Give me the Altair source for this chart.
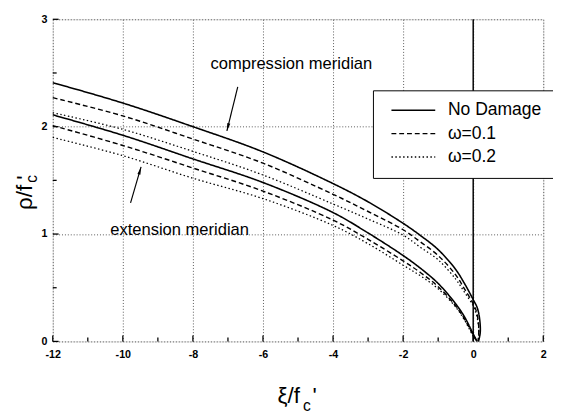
import altair as alt
import pandas as pd

FONT = "Liberation Sans"
W, H = 504, 331

SERIES = ["No Damage", "ω=0.1", "ω=0.2"]
X_TICKS = [-12, -10, -8, -6, -4, -2, 0, 2]
X_MINOR = [-11, -9, -7, -5, -3, -1, 1]
Y_TICKS = [0, 1, 2, 3]
Y_MINOR = [0.5, 1.5, 2.5]

# compression meridian
comp_x_nd = [-12, -10, -8, -6, -4, -3, -2, -1.5, -1, -0.5, -0.25, 0, 0.12, 0.19, 0.2, 0.15]
comp_y_nd = [2.41, 2.22, 2.00, 1.765, 1.47, 1.30, 1.10, 0.985, 0.855, 0.67, 0.54, 0.39, 0.31, 0.19, 0.08, 0.0]
comp_x_d = [-12, -10, -8, -6, -4, -3, -2, -1.5, -1, -0.5, -0.25, 0, 0.1, 0.16, 0.14]
comp_y_01 = [2.27, 2.10, 1.885, 1.66, 1.37, 1.21, 1.04, 0.925, 0.80, 0.62, 0.49, 0.35, 0.27, 0.12, 0.0]
comp_y_02 = [2.13, 1.975, 1.77, 1.55, 1.28, 1.14, 0.99, 0.875, 0.76, 0.58, 0.46, 0.33, 0.24, 0.10, 0.0]
# extension meridian
ext_x = [-12, -10, -8, -6, -4, -3, -2, -1.5, -1, -0.5, -0.25, 0, 0.11]
ext_y_nd = [2.11, 1.92, 1.70, 1.48, 1.20, 1.01, 0.80, 0.68, 0.54, 0.35, 0.23, 0.07, 0.0]
ext_y_01 = [2.01, 1.825, 1.615, 1.40, 1.13, 0.95, 0.75, 0.64, 0.51, 0.33, 0.21, 0.06, 0.0]
ext_y_02 = [1.90, 1.73, 1.52, 1.33, 1.08, 0.91, 0.71, 0.61, 0.49, 0.32, 0.20, 0.05, 0.0]

ANNOT_TEXT = ["compression meridian", "extension meridian"]
ANNOT_X = [-5.19, -8.38]
ANNOT_Y = [2.58, 1.04]
ARROW_X0 = [-6.72, -9.78]
ARROW_Y0 = [2.37, 1.29]
ARROW_X1 = [-7.03, -9.48]
ARROW_Y1 = [1.96, 1.625]

rows = []
def add(series, meridian, xs, ys):
    for i, (a, b) in enumerate(zip(xs, ys)):
        rows.append({"series": series, "meridian": meridian, "i": i, "x": a, "y": b})

add(SERIES[0], "compression", comp_x_nd, comp_y_nd)
add(SERIES[1], "compression", comp_x_d, comp_y_01)
add(SERIES[2], "compression", comp_x_d, comp_y_02)
add(SERIES[0], "extension", ext_x, ext_y_nd)
add(SERIES[1], "extension", ext_x, ext_y_01)
add(SERIES[2], "extension", ext_x, ext_y_02)
df = pd.DataFrame(rows)

xs = alt.Scale(domain=[-12, 2], nice=False, zero=False)
ys = alt.Scale(domain=[0, 3], nice=False, zero=False)

common = dict(labelExpr="'' + datum.value", title=None, ticks=False, tickSize=0, domain=False,
              grid=True, gridDash=[1, 2], gridColor="#555", gridWidth=1, labelFont=FONT,
              labelFontSize=11, labelFontWeight="bold", labelColor="black",
              labelFlush=False, labelOverlap=False)
xaxis = alt.Axis(values=X_TICKS, labelPadding=8, **common)
yaxis = alt.Axis(values=Y_TICKS, labelPadding=6, **common)

X = lambda f="x:Q": alt.X(f, scale=xs, axis=xaxis)
Y = lambda f="y:Q": alt.Y(f, scale=ys, axis=yaxis)

legend = alt.Legend(title=None, orient="none", legendX=329, legendY=73,
                    symbolType="stroke", symbolSize=2025, symbolStrokeWidth=1.3,
                    symbolStrokeColor="black", clipHeight=17, rowPadding=5, padding=12,
                    symbolOffset=6, labelOffset=12, labelFontSize=18, labelFont=FONT,
                    labelColor="black", strokeColor="black", fillColor="white")

lines = alt.Chart(df).mark_line(color="black", interpolate="catmull-rom").encode(
    x=X(), y=Y(),
    detail="meridian:N",
    order="i:Q",
    strokeDash=alt.StrokeDash("series:N", sort=SERIES,
                              scale=alt.Scale(domain=SERIES, range=[[1, 0], [5, 3], [1.5, 2.5]]),
                              legend=legend),
    strokeWidth=alt.StrokeWidth("series:N", scale=alt.Scale(domain=SERIES, range=[1.6, 1.3, 1.1]),
                                legend=None),
)

zero_rule = alt.Chart(pd.DataFrame({"x": [0]})).mark_rule(color="black", strokeWidth=1.5).encode(
    x=X(), y=alt.value(0), y2=alt.value(H))

xt_major = alt.Chart(pd.DataFrame({"x": X_TICKS})).mark_rule(color="black", strokeWidth=1.3).encode(
    x=X(), y=alt.value(H), y2=alt.value(H - 6))
xt_minor = alt.Chart(pd.DataFrame({"x": X_MINOR})).mark_rule(color="black", strokeWidth=1.3).encode(
    x=X(), y=alt.value(H), y2=alt.value(H - 4))
yt_major = alt.Chart(pd.DataFrame({"y": Y_TICKS})).mark_rule(color="black", strokeWidth=1.3).encode(
    y=Y(), x=alt.value(0), x2=alt.value(6))
yt_minor = alt.Chart(pd.DataFrame({"y": Y_MINOR})).mark_rule(color="black", strokeWidth=1.3).encode(
    y=Y(), x=alt.value(0), x2=alt.value(4))

annot_df = pd.DataFrame({"t": ANNOT_TEXT, "x": ANNOT_X, "y": ANNOT_Y})
annot = alt.Chart(annot_df).mark_text(font=FONT, fontSize=17, color="black").encode(
    x=X(), y=Y(), text="t:N")

arrow_df = pd.DataFrame({"x0": ARROW_X0, "y0": ARROW_Y0, "x1": ARROW_X1, "y1": ARROW_Y1})
shafts = alt.Chart(arrow_df).mark_rule(color="black", strokeWidth=1.2).encode(
    x=X("x0:Q"), y=Y("y0:Q"), x2="x1:Q", y2="y1:Q")
HEAD = "M0,0L-0.4,2L0.4,2Z"
head1 = alt.Chart(arrow_df.iloc[[0]]).mark_point(shape=HEAD, size=64, filled=True, color="black",
                                                 opacity=1, angle=194).encode(x=X("x1:Q"), y=Y("y1:Q"))
head2 = alt.Chart(arrow_df.iloc[[1]]).mark_point(shape=HEAD, size=64, filled=True, color="black",
                                                 opacity=1, angle=16).encode(x=X("x1:Q"), y=Y("y1:Q"))

def txt(s, size, x, y, angle=0, align="left"):
    return alt.Chart(pd.DataFrame({"t": [s]})).mark_text(
        font=FONT, fontSize=size, color="black", align=align, baseline="alphabetic", angle=angle
    ).encode(text="t:N", x=alt.value(x), y=alt.value(y))

xtitle = txt("ξ/f", 23, 231, 394) + txt("c", 16, 257, 402) + txt("'", 23, 267, 394)
ytitle = (txt("ρ/f", 23, -21, 170, angle=270, align="right")
          + txt("c", 16, -16, 168, angle=270) + txt("'", 23, -21, 165, angle=270))

chart = alt.layer(
    zero_rule, xt_major, xt_minor, yt_major, yt_minor, lines, shafts, head1, head2, annot,
    xtitle, ytitle
).properties(
    width=W, height=H,
    autosize=alt.AutoSizeParams(type="none"),
    padding={"left": 46, "top": 6, "right": 10, "bottom": 70},
).configure_view(stroke="black", strokeWidth=1.6).configure(background="white")

chart.save("out.html", embed_options={"renderer": "svg", "actions": False})
